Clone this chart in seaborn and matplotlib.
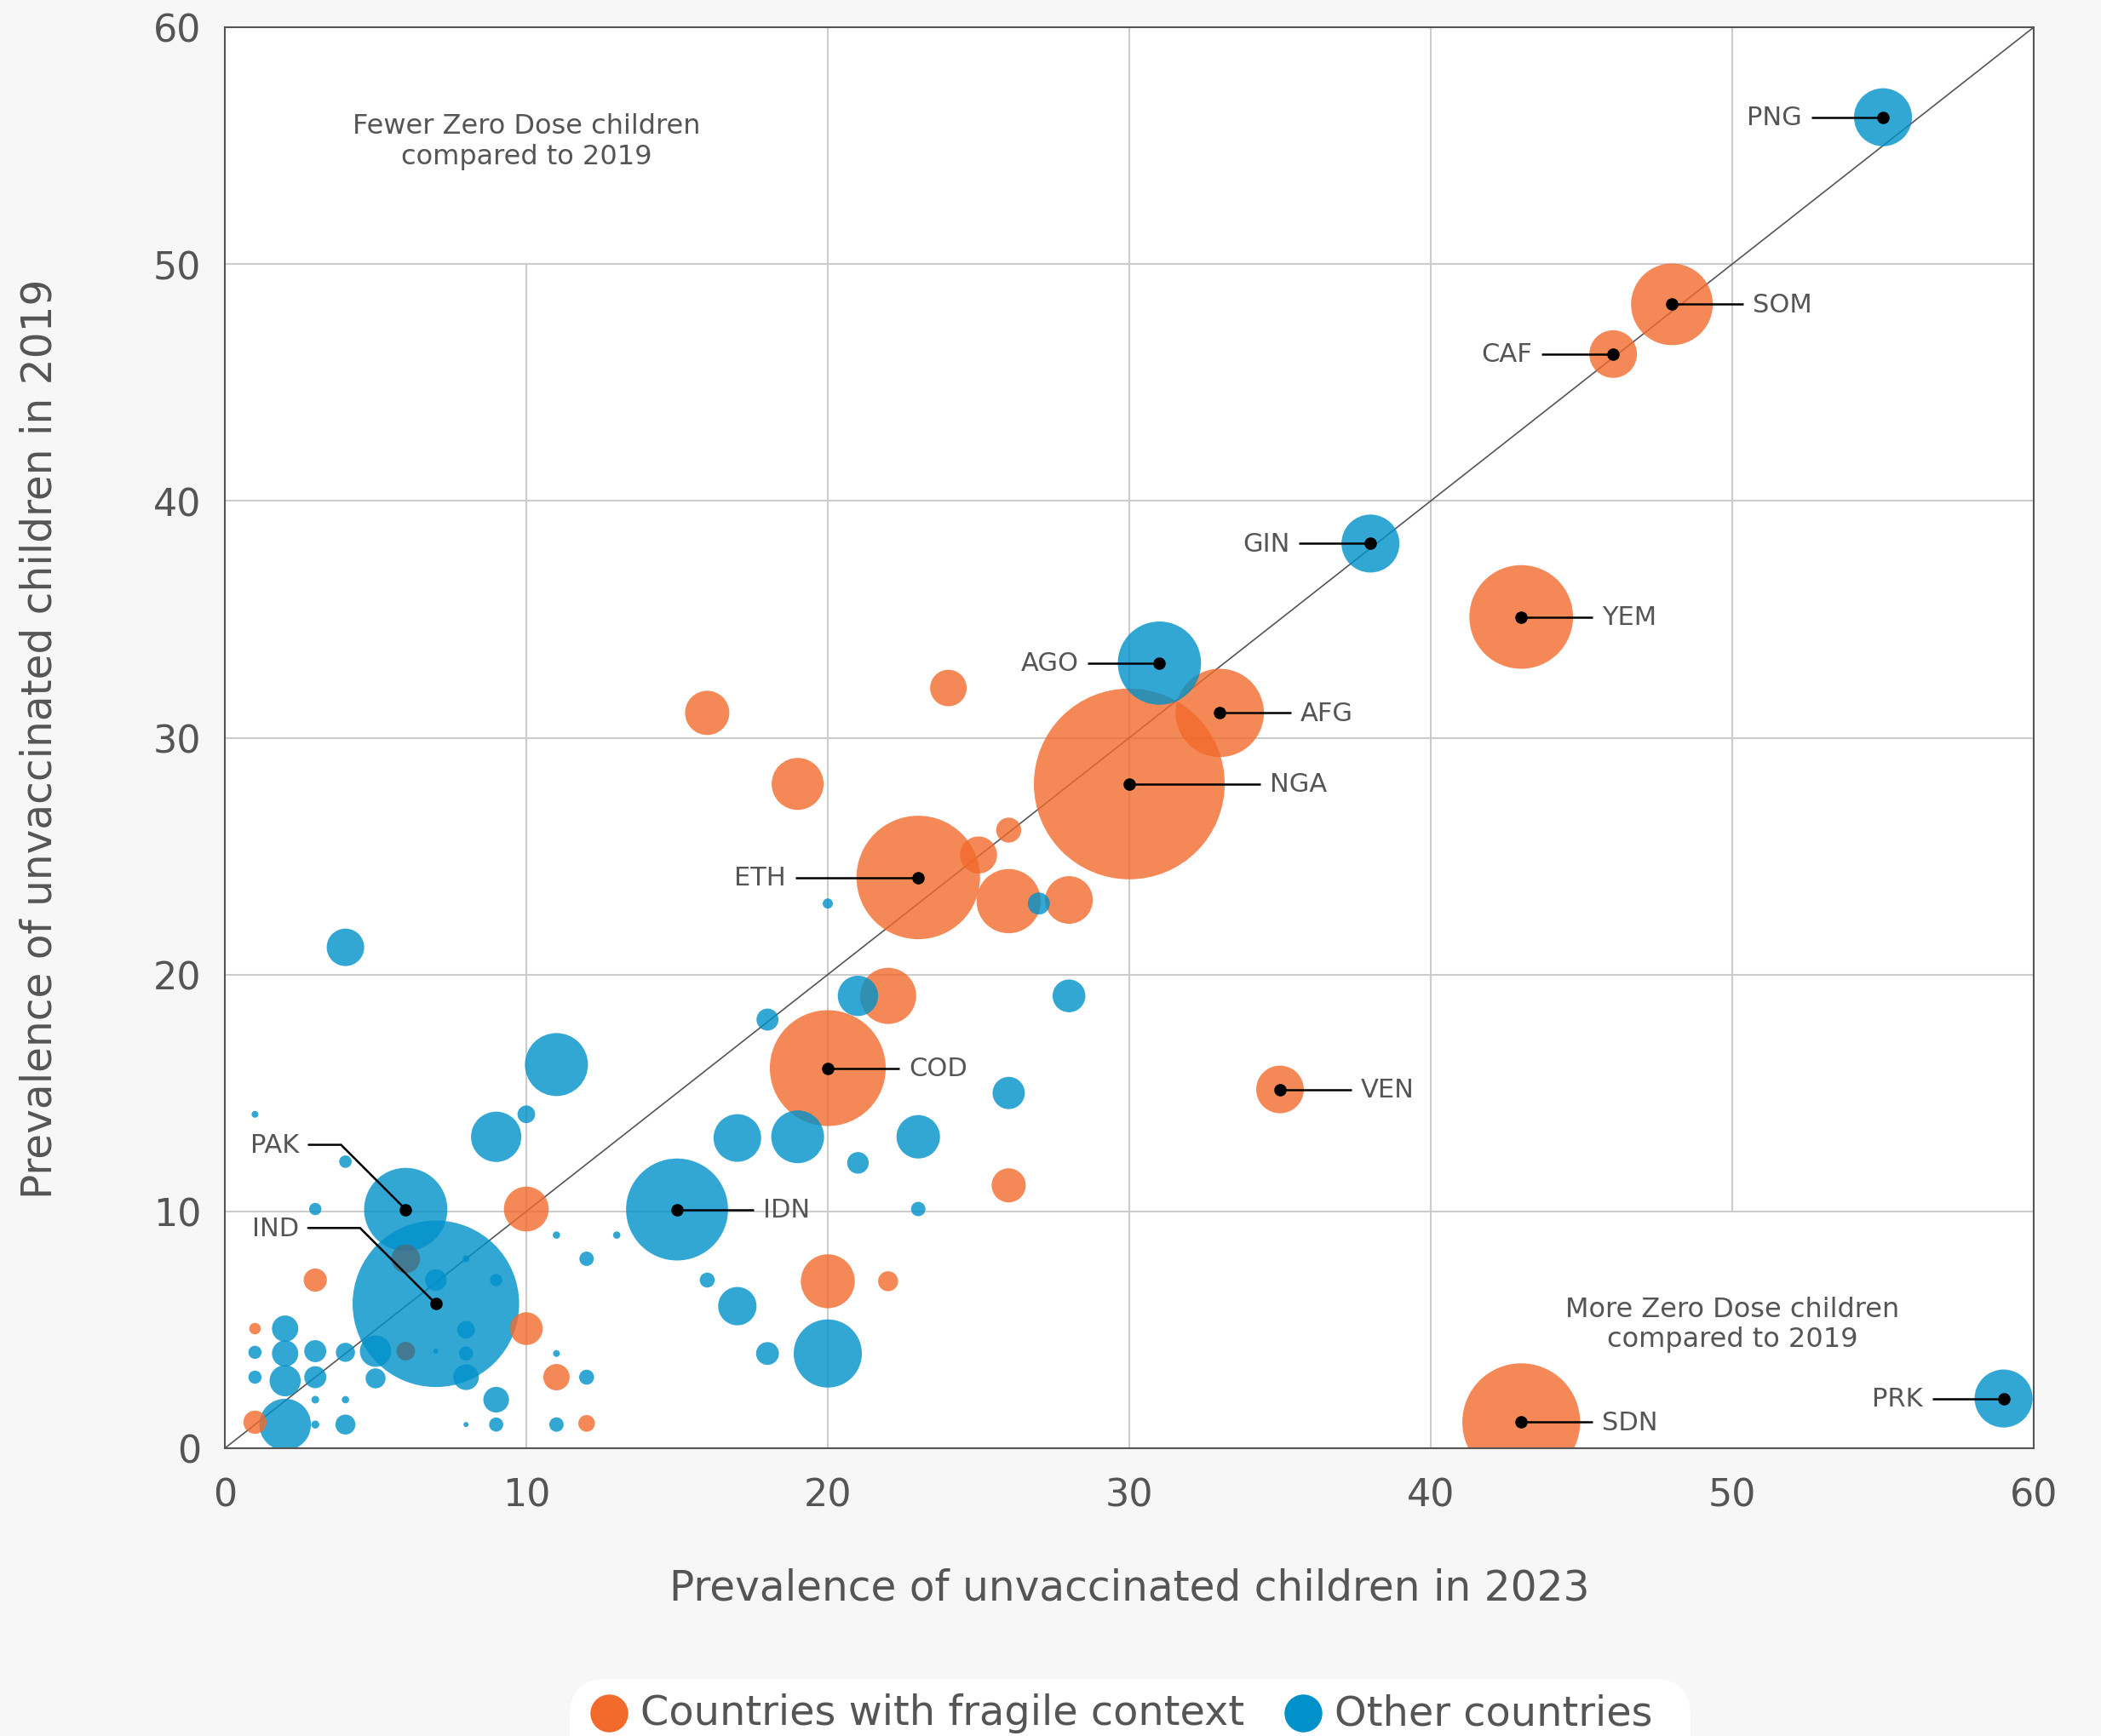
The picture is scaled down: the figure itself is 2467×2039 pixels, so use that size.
import matplotlib
matplotlib.use("Agg")
import matplotlib.pyplot as plt
import seaborn as sns
import pandas as pd
from matplotlib.lines import Line2D
from matplotlib.patches import FancyBboxPatch

# ---------------- data ----------------
# prevalence 2023 (x), prevalence 2019 (y), zero-dose children (thousands, bubble area), group
label_iso = ["PNG", "SOM", "CAF", "GIN", "YEM", "AFG", "AGO", "NGA",
             "ETH", "COD", "VEN", "SDN", "PRK", "IDN", "PAK", "IND"]
label_2023 = [55.0, 48.0, 46.05, 38.0, 43.0, 33.0, 31.0, 30.0,
              23.0, 20.0, 35.0, 43.0, 59.0, 15.0, 6.0, 7.0]
label_2019 = [56.2, 48.3, 46.2, 38.2, 35.1, 31.05, 33.15, 28.05,
              24.1, 16.05, 15.15, 1.1, 2.1, 10.08, 10.08, 6.1]
label_zd = [194, 385, 131, 194, 620, 450, 400, 2100,
            880, 775, 131, 800, 194, 600, 400, 1600]
label_group = ["other", "fragile", "fragile", "other", "fragile", "fragile", "other", "fragile",
               "fragile", "fragile", "fragile", "fragile", "other", "other", "other", "other"]
label_side = ["left", "right", "left", "left", "right", "right", "left", "right",
              "left", "right", "right", "right", "left", "right", "elbow", "elbow"]

fragile_2023 = [16, 24, 19, 26, 25, 26, 28, 22, 26, 20, 22, 10, 3, 1, 10, 11, 1, 12]
fragile_2019 = [31.05, 32.1, 28.05, 26.1, 25.05, 23.1, 23.15, 19.1, 11.1, 7.05, 7.05,
                10.1, 7.1, 5.05, 5.05, 3.0, 1.1, 1.05]
fragile_zd = [113, 77, 156, 36, 79, 238, 131, 182, 67, 168, 23, 116, 31, 7.7, 62, 40, 31, 16]

other_2023 = [27, 20, 21, 28, 18, 26, 23, 23, 19, 17, 21, 11, 4, 1, 9, 10, 4, 3,
              11, 13, 12, 16, 17, 18, 20, 11, 12, 11, 7, 9, 8, 2, 8, 1, 2, 3,
              4, 5, 7, 8, 1, 2, 3, 5, 8, 9, 3, 4, 2, 3, 4, 8, 9]
other_2019 = [23.0, 23.0, 19.1, 19.1, 18.1, 15.0, 13.15, 10.1, 13.15, 13.1, 12.05, 16.2,
              21.15, 14.1, 13.15, 14.1, 12.1, 10.1, 9.0, 9.0, 8.0, 7.1, 6.0, 4.0, 4.0,
              4.0, 3.0, 1.0, 7.1, 7.1, 8.0, 5.05, 5.0, 4.05, 4.0, 4.1, 4.05, 4.1, 4.1,
              4.0, 3.0, 2.85, 3.0, 2.95, 3.0, 2.05, 2.05, 2.05, 1.0, 1.0, 1.0, 1.0, 1.0]
other_zd = [28, 6, 94, 62, 28, 60, 109, 12, 161, 131, 27, 229,
            81, 2.7, 146, 18, 9, 8.7, 3.1, 3.1, 12, 13, 85, 30, 268,
            2.7, 13, 12, 27, 8.7, 2.7, 40, 18, 10, 40, 28, 21, 57, 1.5,
            11.5, 10, 56, 28, 23, 38, 38, 3.4, 3.1, 154, 3.7, 23, 1.5, 11.5]

unclass_2023 = [6, 6]
unclass_2019 = [8.0, 4.1]
unclass_zd = [47, 20]

x_ticks = [0, 10, 20, 30, 40, 50, 60]
y_ticks = [0, 10, 20, 30, 40, 50, 60]
legend_labels = ["Countries with fragile context", "Other countries"]

# ---------------- frame ----------------
df = pd.concat([
    pd.DataFrame({"p2023": label_2023, "p2019": label_2019, "zd": label_zd, "group": label_group}),
    pd.DataFrame({"p2023": fragile_2023, "p2019": fragile_2019, "zd": fragile_zd, "group": "fragile"}),
    pd.DataFrame({"p2023": other_2023, "p2019": other_2019, "zd": other_zd, "group": "other"}),
    pd.DataFrame({"p2023": unclass_2023, "p2019": unclass_2019, "zd": unclass_zd, "group": "unclassified"}),
], ignore_index=True).sort_values("zd", ascending=False)

sns.set_style("white")
plt.rcParams["font.family"] = ["DejaVu Sans"]

TXT = "#555555"
ORANGE = "#F26A2C"
BLUE = "#0091CA"
GRAY = "#466F82"

W, H, DPI = 2467, 2040, 100
fig = plt.figure(figsize=(W / DPI, H / DPI), dpi=DPI, facecolor="#f7f7f7")
ax = fig.add_axes([264 / W, (H - 1702) / H, (2388 - 264) / W, (1702 - 33) / H])
ax.set_facecolor("white")
ax.set_xlim(0, 60)
ax.set_ylim(0, 60)

# grid (masked behind the two corner notes)
for v in y_ticks[1:-1]:
    ax.axhline(v, color="#cccccc", lw=1.5, zorder=0)
for v in x_ticks[1:-1]:
    lo, hi = 0.0, 1.0
    if v == 10:
        hi = 50 / 60
    if v == 50:
        lo = 10 / 60
    ax.axvline(v, ymin=lo, ymax=hi, color="#cccccc", lw=1.5, zorder=0)

# diagonal
ax.plot([0, 60], [0, 60], color="#555555", lw=1.2, zorder=1)

maxzd = max(label_zd)
sns.scatterplot(data=df, x="p2023", y="p2019", hue="group", size="zd",
                hue_order=["fragile", "other", "unclassified"],
                palette={"fragile": ORANGE, "other": BLUE, "unclassified": GRAY},
                sizes=(0, 12.39 * maxzd), size_norm=(0, maxzd),
                alpha=0.8, linewidth=0, legend=False, ax=ax, zorder=3)

# labelled points: black dots + leaders
ax.scatter(label_2023, label_2019, s=110, color="black", zorder=5, linewidths=0)


def off(x, y, dx, dy):
    px, py = ax.transData.transform((x, y))
    return ax.transData.inverted().transform((px + dx, py + dy))


LAB_FS = 22
long_lines = {"NGA": 154, "ETH": 144, "IDN": 90}
for iso, x, y, side in zip(label_iso, label_2023, label_2019, label_side):
    if side in ("left", "right"):
        sgn = 1 if side == "right" else -1
        L = long_lines.get(iso, 84)
        xe, ye = off(x, y, sgn * L, 0)
        ax.plot([x, xe], [y, ye], color="black", lw=1.8, zorder=6, solid_capstyle="butt")
        xt, yt = off(x, y, sgn * (L + 11), 0)
        ax.text(xt, yt, iso, ha="left" if sgn > 0 else "right", va="center",
                fontsize=LAB_FS, color=TXT, zorder=7)
    else:
        d, hl = (76, 38) if iso == "PAK" else (89, 61)
        x1, y1 = off(x, y, -d, d)
        x2, y2 = off(x, y, -d - hl, d)
        ax.plot([x, x1, x2], [y, y1, y2], color="black", lw=1.8, zorder=6,
                solid_joinstyle="miter")
        xt, yt = off(x, y, -d - hl - 11, d)
        ax.text(xt, yt, iso, ha="right", va="center", fontsize=LAB_FS, color=TXT, zorder=7)

# corner notes
ax.text(10, 55.2, "Fewer Zero Dose children\ncompared to 2019", ha="center", va="center",
        fontsize=23, color=TXT, linespacing=1.2, zorder=7)
ax.text(50, 5.25, "More Zero Dose children\ncompared to 2019", ha="center", va="center",
        fontsize=23, color=TXT, linespacing=1.2, zorder=7)

# axes styling
for s in ax.spines.values():
    s.set_color("#555555")
    s.set_linewidth(1.5)
    s.set_zorder(8)
ax.set_xticks(x_ticks)
ax.set_yticks(y_ticks)
ax.tick_params(axis="x", length=14.4, width=1.3, color="#555555", pad=10,
               labelsize=32, labelcolor=TXT)
ax.tick_params(axis="y", length=0, pad=20, labelsize=32, labelcolor=TXT)
ax.grid(False)

ax.set_xlabel("Prevalence of unvaccinated children in 2023", fontsize=35, color=TXT)
ax.set_ylabel("Prevalence of unvaccinated children in 2019", fontsize=35, color=TXT)
ax.xaxis.set_label_coords(0.5, (1702 - 1866) / (1702 - 33))
ax.xaxis.label.set_va("center")
ax.yaxis.set_label_coords((47 - 264) / (2388 - 264), 0.5)
ax.yaxis.label.set_va("center")

# legend (bottom, white rounded box cut by figure edge)
box = FancyBboxPatch((6.69, -0.6), 13.16, 0.6 + 0.67,
                     boxstyle="round,pad=0,rounding_size=0.42",
                     transform=fig.dpi_scale_trans, facecolor="white", edgecolor="none")
fig.patches.append(box)
for cx, tx, col, lab in [(7.146, 7.52, ORANGE, legend_labels[0]),
                         (15.30, 15.67, BLUE, legend_labels[1])]:
    fig.add_artist(Line2D([cx], [0.27], marker="o", markersize=32, markerfacecolor=col,
                          markeredgewidth=0, linestyle="none", transform=fig.dpi_scale_trans))
    fig.text(tx, 0.27, lab, transform=fig.dpi_scale_trans, ha="left", va="center",
             fontsize=34.5, color=TXT)

fig.savefig("out.png", dpi=DPI, facecolor=fig.get_facecolor())
